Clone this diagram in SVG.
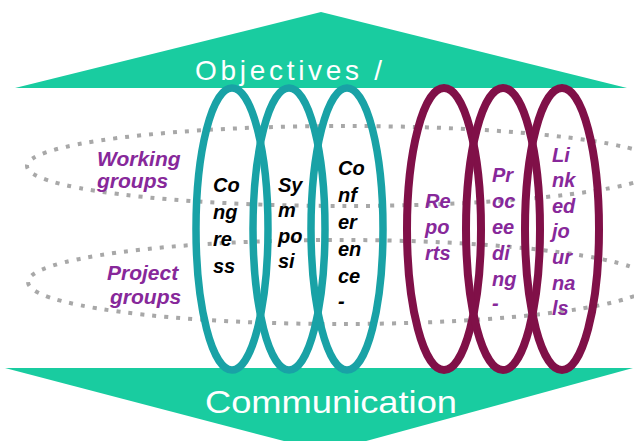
<svg xmlns="http://www.w3.org/2000/svg" width="634" height="441" viewBox="0 0 634 441">
<style>
.band{fill:#19CCA0}
.bandtxt{fill:#FFFFFF;font-family:"Liberation Sans",Arial,sans-serif}
.dots{fill:none;stroke:#A8A8A8;stroke-width:4;stroke-dasharray:4 8}
.teal{fill:none;stroke:#19A2A6;stroke-width:7.5}
.maroon{fill:none;stroke:#801048;stroke-width:8}
.lbl{font-family:"Liberation Sans",Arial,sans-serif;font-weight:bold;font-style:italic;font-size:20px}
.blk{fill:#000000}
.pur{fill:#87289A}
.side{font-size:21px}
</style>
<rect width="634" height="441" fill="#FFFFFF"/>
<g id="objectives">
<polygon class="band" points="15,88 321,12 627,88"/>
<text class="bandtxt" x="195" y="80" font-size="28" textLength="187" lengthAdjust="spacing">Objectives /</text>
</g>
<g id="communication">
<polygon class="band" points="5,368 633,368 326,452"/>
<text class="bandtxt" x="205" y="413" font-size="32" textLength="252" lengthAdjust="spacingAndGlyphs">Communication</text>
</g>
<g id="working-groups">
<ellipse class="dots" cx="345" cy="166" rx="318" ry="40"/>
</g>
<g id="project-groups">
<ellipse class="dots" cx="340" cy="282" rx="312" ry="42"/>
</g>
<g id="congress"><ellipse class="teal" cx="232" cy="229" rx="36" ry="141"/></g>
<g id="symposia"><ellipse class="teal" cx="289" cy="229" rx="36" ry="141"/></g>
<g id="conferences"><ellipse class="teal" cx="347" cy="229" rx="36" ry="141"/></g>
<g id="reports"><ellipse class="maroon" cx="444" cy="229" rx="37" ry="141"/></g>
<g id="proceedings"><ellipse class="maroon" cx="503" cy="229" rx="37" ry="141"/></g>
<g id="linked-journals"><ellipse class="maroon" cx="562" cy="229" rx="37" ry="141"/></g>
<g id="labels-left" class="lbl side pur">
<text x="97" y="166">Working</text>
<text x="97" y="188">groups</text>
<text x="107" y="280">Project</text>
<text x="110" y="304">groups</text>
</g>
<g id="label-congress" class="lbl blk">
<text x="213" y="192">Co</text>
<text x="213" y="219">ng</text>
<text x="213" y="246">re</text>
<text x="213" y="273">ss</text>
</g>
<g id="label-symposia" class="lbl blk">
<text x="278" y="192">Sy</text>
<text x="278" y="217">m</text>
<text x="278" y="243">po</text>
<text x="278" y="268">si</text>
</g>
<g id="label-conferences" class="lbl blk">
<text x="338" y="175">Co</text>
<text x="338" y="202">nf</text>
<text x="338" y="229">er</text>
<text x="338" y="256">en</text>
<text x="338" y="283">ce</text>
<text x="338" y="308">-</text>
</g>
<g id="label-reports" class="lbl pur">
<text x="425" y="208">Re</text>
<text x="425" y="234">po</text>
<text x="425" y="260">rts</text>
</g>
<g id="label-proceedings" class="lbl pur">
<text x="492" y="182">Pr</text>
<text x="492" y="208">oc</text>
<text x="492" y="234">ee</text>
<text x="492" y="260">di</text>
<text x="492" y="286">ng</text>
<text x="492" y="310">-</text>
</g>
<g id="label-linked-journals" class="lbl pur">
<text x="552" y="162">Li</text>
<text x="552" y="187">nk</text>
<text x="552" y="213">ed</text>
<text x="552" y="238">jo</text>
<text x="552" y="264">ur</text>
<text x="552" y="290">na</text>
<text x="552" y="315">ls</text>
</g>
</svg>
